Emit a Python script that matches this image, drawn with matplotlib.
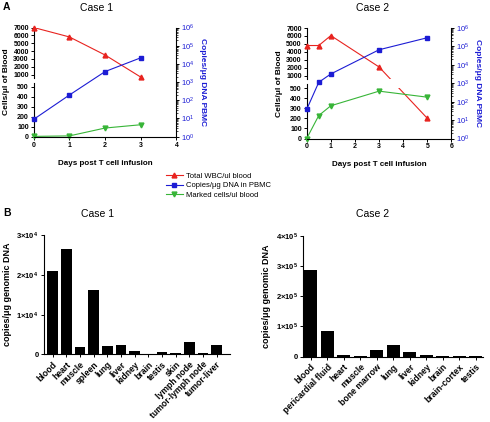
import numpy as np
import matplotlib
matplotlib.use('Agg')
import matplotlib.pyplot as plt
from matplotlib.patches import Rectangle
from matplotlib.ticker import FuncFormatter, LogLocator, LogFormatterMathtext

plt.rcParams['font.family'] = ['Liberation Sans', 'DejaVu Sans']
plt.rcParams['mathtext.fontset'] = 'custom'
plt.rcParams['mathtext.rm'] = 'Liberation Sans'
plt.rcParams['mathtext.bf'] = 'Liberation Sans:bold'
plt.rcParams['axes.linewidth'] = 0.8

# ---- panel A data
days1 = [0, 1, 2, 3]
wbc1 = [7000, 5800, 3500, 900]
copies1 = [9, 195, 3800, 21700]
marked1 = [3, 8, 87, 120]

days2 = [0, 0.5, 1, 3, 5]
wbc2 = [4800, 4800, 6050, 2100, 200]
copies2 = [38, 1130, 3200, 66000, 297000]
marked2 = [0, 228, 325, 470, 410]

# ---- panel B data
tissues1 = ['blood', 'heart', 'muscle', 'spleen', 'lung', 'liver', 'kidney', 'brain',
            'testis', 'skin', 'lymph node', 'tumor-lymph node', 'tumor-liver']
values1 = [21000, 26400, 1760, 16300, 2180, 2430, 750, 100, 500, 350, 3100, 420, 2350]
tissues2 = ['blood', 'pericardial fluid', 'heart', 'muscle', 'bone marrow', 'lung',
            'liver', 'kidney', 'brain', 'brain-cortex', 'testis']
values2 = [288000, 85000, 6600, 1000, 21000, 39700, 15400, 5500, 800, 800, 800]

RED = '#e8231f'
BLUE = '#1c1cd4'
GREEN = '#38b538'

# broken left axis: 0-500 bottom part, 1000-7000 top part
LO, MID = 0.456, 0.568


def fwd(v):
    v = np.asarray(v, float)
    return np.where(v <= 500, v * LO / 500,
                    np.where(v <= 1000, LO + (v - 500) * (MID - LO) / 500,
                             MID + (v - 1000) * (1 - MID) / 6000))


def inv(y):
    y = np.asarray(y, float)
    return np.where(y <= LO, y * 500 / LO,
                    np.where(y <= MID, 500 + (y - LO) * 500 / (MID - LO),
                             1000 + (y - MID) * 6000 / (1 - MID)))


fig = plt.figure(figsize=(4.9, 4.22), dpi=100)


def panel_a(rect, days, wbc, copies, marked, xmax, title, title_x):
    ax = fig.add_axes(rect)
    ax.set_yscale('function', functions=(fwd, inv))
    ax.set_ylim(0, 7000)
    ax.set_xlim(0, xmax)
    ax.set_xticks(range(xmax + 1))
    ax.set_yticks([0, 100, 200, 300, 400, 500, 1000, 2000, 3000, 4000, 5000, 6000, 7000])
    ax.yaxis.set_major_formatter(FuncFormatter(lambda v, p: '%d' % round(v)))
    ax.yaxis.set_minor_locator(matplotlib.ticker.NullLocator())
    for s in ['top', 'right', 'left']:
        ax.spines[s].set_visible(False)
    ax.plot([0, 0], [0, 0.49], transform=ax.transAxes, color='k', lw=0.8, clip_on=False)
    ax.plot([0, 0], [0.535, 1], transform=ax.transAxes, color='k', lw=0.8, clip_on=False)
    ax.tick_params(labelsize=5, width=0.7, length=2.5, pad=1)
    for t in ax.get_xticklabels() + ax.get_yticklabels():
        t.set_fontweight('bold')

    # red line, hidden inside the break
    for y0, h in [(0, 0.455), (0.535, 0.465)]:
        ln, = ax.plot(days, wbc, color=RED, lw=0.8)
        ln.set_clip_path(Rectangle((0, y0), 1, h, transform=ax.transAxes))
    ax.plot(days, wbc, ls='none', marker='^', ms=3.5, color=RED, clip_on=False)
    ax.plot(days, marked, color=GREEN, lw=0.8, marker='v', ms=3.5, clip_on=False)

    ax.set_ylabel('Cells/\u03bcl of Blood', fontsize=6, fontweight='bold', labelpad=2)
    ax.set_xlabel('Days post T cell infusion', fontsize=5.8, fontweight='bold', labelpad=8)

    tw = ax.twinx()
    tw.set_yscale('log')
    tw.set_ylim(1, 1e6)
    tw.yaxis.set_major_locator(LogLocator(base=10, numticks=10))
    tw.yaxis.set_major_formatter(LogFormatterMathtext())
    tw.yaxis.set_minor_locator(LogLocator(base=10, subs=np.arange(2, 10), numticks=10))
    for s in ['top', 'left', 'bottom']:
        tw.spines[s].set_visible(False)
    tw.tick_params(axis='y', labelsize=5.5, labelcolor=BLUE, width=0.7, length=2.5, pad=1)
    tw.tick_params(axis='y', which='minor', length=1.2, width=0.5)
    tw.plot(days, copies, color=BLUE, lw=0.8, marker='s', ms=3.5, clip_on=False)
    tw.set_ylabel('Copies/\u03bcg DNA PBMC', fontsize=6, fontweight='bold', color=BLUE,
                  rotation=270, labelpad=8)
    fig.text(title_x / 490, 1 - 8 / 422, title, fontsize=7.5, ha='center', va='center')
    return ax


panel_a([0.0688, 0.6761, 0.2914, 0.2587], days1, wbc1, copies1, marked1, 4, 'Case 1', 97)
panel_a([0.6259, 0.6718, 0.2955, 0.2618], days2, wbc2, copies2, marked2, 6, 'Case 2', 373)

# legend
h = [plt.Line2D([], [], color=RED, marker='^', ms=3.5, lw=0.8),
     plt.Line2D([], [], color=BLUE, marker='s', ms=3.5, lw=0.8),
     plt.Line2D([], [], color=GREEN, marker='v', ms=3.5, lw=0.8)]
fig.legend(h, ['Total WBC/ul blood', 'Copies/\u03bcg DNA in PBMC', 'Marked cells/ul blood'],
           loc='upper left', bbox_to_anchor=(162 / 490, 1 - 169 / 422), frameon=False,
           fontsize=5.5, handlelength=2.2, handletextpad=0.5, labelspacing=0.25, borderpad=0)


def sci(v, p):
    if v == 0:
        return '0'
    e = int(np.floor(np.log10(v)))
    return r'$\mathbf{%d{\times}10^{%d}}$' % (round(v / 10 ** e), e)


def panel_b(rect, tissues, values, ymax, step, xlim, title, title_x):
    ax = fig.add_axes(rect)
    x = np.arange(len(tissues))
    ax.bar(x, values, width=0.78, color='black')
    ax.set_xlim(*xlim)
    ax.set_ylim(0, ymax)
    ax.set_yticks(np.arange(0, ymax + 1, step))
    ax.yaxis.set_major_formatter(FuncFormatter(sci))
    ax.set_xticks(x)
    ax.set_xticklabels(tissues, rotation=45, ha='right', rotation_mode='anchor')
    for s in ['top', 'right']:
        ax.spines[s].set_visible(False)
    ax.tick_params(labelsize=6.2, width=0.7, length=2.5, pad=1.5)
    ax.tick_params(axis='y', labelsize=5.5)
    for t in ax.get_xticklabels() + ax.get_yticklabels():
        t.set_fontweight('bold')
    ax.set_ylabel('copies/\u03bcg genomic DNA', fontsize=6.5, fontweight='bold', labelpad=3)
    fig.text(title_x / 490, 1 - 214 / 422, title, fontsize=7.5, ha='center', va='center')
    return ax


panel_b([0.0904, 0.1600, 0.3790, 0.2831], tissues1, values1, 30000, 10000, (-0.61, 12.97), 'Case 1', 98)
panel_b([0.6190, 0.1547, 0.3661, 0.2868], tissues2, values2, 400000, 100000, (-0.45, 10.42), 'Case 2', 373)

fig.text(3 / 490, 1 - 7 / 422, 'A', fontsize=7.5, fontweight='bold', va='center')
fig.text(3 / 490, 1 - 213 / 422, 'B', fontsize=7.5, fontweight='bold', va='center')

fig.savefig('out.png', dpi=100)
